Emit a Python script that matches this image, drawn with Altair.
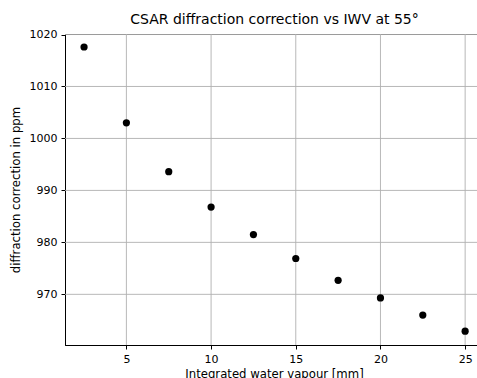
import altair as alt
import pandas as pd

iwv = [2.5, 5, 7.5, 10, 12.5, 15, 17.5, 20, 22.5, 25]
corr = [1017.6, 1003.0, 993.6, 986.8, 981.5, 976.9, 972.7, 969.3, 966.0, 962.9]
x_ticks = [5, 10, 15, 20, 25]
y_ticks = [970, 980, 990, 1000, 1010, 1020]

df = pd.DataFrame({"iwv": iwv, "corr": corr})
xt = pd.DataFrame({"iwv": x_ticks})
yt = pd.DataFrame({"corr": y_ticks})

FONT = "DejaVu Sans"
xscale = alt.Scale(domain=[1.375, 25.7], nice=False, zero=False)
yscale = alt.Scale(domain=[960.25, 1020.1], nice=False, zero=False)

xgrid = alt.Chart(xt).mark_rule(color="#b0b0b0", strokeWidth=0.9).encode(
    x=alt.X("iwv:Q", scale=xscale,
            axis=alt.Axis(values=x_ticks, format="d", title="Integrated water vapour [mm]",
                          titleX=209, titlePadding=4, grid=False))
)
ygrid = alt.Chart(yt).mark_rule(color="#b0b0b0", strokeWidth=0.9).encode(
    y=alt.Y("corr:Q", scale=yscale,
            axis=alt.Axis(values=y_ticks, format="d", title="diffraction correction in ppm",
                          titlePadding=8, grid=False))
)

points = alt.Chart(df).mark_circle(size=52, color="black", opacity=1).encode(
    x=alt.X("iwv:Q", scale=xscale),
    y=alt.Y("corr:Q", scale=yscale),
)

chart = (xgrid + ygrid + points).properties(
    width=412, height=311,
    background="white",
    autosize=alt.AutoSizeParams(type="none"),
    padding={"left": 65, "top": 34, "right": 0, "bottom": 33},
    title=alt.Title("CSAR diffraction correction vs IWV at 55°", fontSize=14,
                    font=FONT, fontWeight="normal", color="black", dx=3.5, offset=2),
).configure_view(stroke="black", strokeWidth=1).configure_axis(
    grid=False,
    domainColor="black", domainWidth=1,
    tickColor="black", tickSize=4, tickWidth=1,
    labelFont=FONT, labelFontSize=11, labelColor="black", labelPadding=4,
    titleFont=FONT, titleFontSize=11.7, titleFontWeight="normal", titleColor="black",
)

chart.save("out.html", embed_options={"renderer": "svg", "actions": False})
